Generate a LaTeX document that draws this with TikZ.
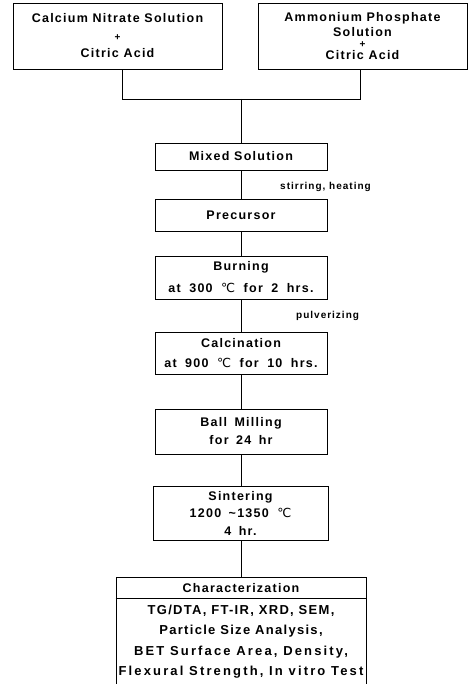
\documentclass[tikz,border=0pt]{standalone}
\usepackage{fontspec}
\setmainfont{Liberation Sans}
\newfontfamily\lab{Liberation Sans}[LetterSpace=10]
\newfontfamily\labw{Liberation Sans}[LetterSpace=16.5]
\newfontfamily\dv{DejaVu Sans}
\newcommand{\degc}{{\dv\mdseries ℃}}
\newcommand{\pls}{{\lab\bfseries\fontsize{10}{10}\selectfont +}}
\newcommand{\wsp}{\hspace{8.5pt}}
\newcommand{\msp}{\hspace{7.5pt}}
\begin{document}
\begin{tikzpicture}[x=1pt,y=-1pt,
  box/.style={draw, line width=0.8pt, rectangle, inner sep=0pt, align=center,
    font=\lab\bfseries\fontsize{12.5}{19}\selectfont},
  conn/.style={line width=0.8pt},
  note/.style={font=\lab\bfseries\fontsize{10}{12}\selectfont, anchor=west, inner sep=0pt}]
\useasboundingbox (0,0) rectangle (472,684);
\node[box, minimum width=209pt, minimum height=66pt] (cal) at (117.5,36)
  {Calcium Nitrate Solution\\[-1.5pt]\pls\\[-1.5pt]Citric Acid};
\node[box, minimum width=209pt, minimum height=66pt] (amm) at (362.5,36)
  {Ammonium Phosphate\\[-4pt]Solution\\[-8pt]\pls\\[-7pt]Citric Acid};
\coordinate (jl) at (122,99);
\coordinate (jr) at (360,99);
\coordinate (jc) at (241,99);
\node[box, minimum width=172pt, minimum height=27pt] (mix) at (241,156.5) {Mixed Solution};
\node[box, minimum width=172pt, minimum height=32pt] (pre) at (241,215) {Precursor};
\node[box, minimum width=172pt, minimum height=43pt] (burn) at (241,277.5)
  {Burning\\[3pt]at\wsp 300\wsp\degc\wsp for\wsp 2\wsp hrs.};
\node[box, minimum width=172pt, minimum height=42pt] (calc) at (241,353)
  {Calcination\\[1pt]at\wsp 900\wsp\degc\wsp for\wsp 10\wsp hrs.};
\node[box, minimum width=172pt, minimum height=45pt] (ball) at (241,431.5)
  {Ball\msp Milling\\[-1pt]for\msp 24\msp hr};
\node[box, minimum width=175pt, minimum height=54pt] (sint) at (240.5,513)
  {Sintering\\[-1.5pt]1200\msp\textasciitilde1350\wsp\degc\\[-1.5pt]4\msp hr.};
\node[draw, line width=0.8pt, rectangle, minimum width=250pt, minimum height=130pt, anchor=north, inner sep=0pt] (char) at (241,577) {};
\draw[conn] (char.west |- 0,598) -- (char.east |- 0,598);
\node[font=\lab\bfseries\fontsize{12.5}{15}\selectfont, inner sep=0pt] (chart) at (241,588) {Characterization};
\node[align=center, inner sep=0pt, font=\lab\bfseries\fontsize{13}{20.5}\selectfont] (charb) at (241,641.5)
  {TG/DTA, FT-IR, XRD, SEM,\\Particle Size Analysis,\\{\labw BET Surface Area, Density,}\\{\labw Flexural Strength, In vitro Test}};
\node[note] (stir) at (280,187) {stirring, heating};
\node[note] (pulv) at (296,316) {pulverizing};
\draw[conn] (cal.south -| jl) -- (jl) -- (jr) -- (amm.south -| jr);
\draw[conn] (jc) -- (mix.north);
\draw[conn] (mix) -- (pre);
\draw[conn] (pre) -- (burn);
\draw[conn] (burn) -- (calc);
\draw[conn] (calc) -- (ball);
\draw[conn] (ball.south) -- (ball.south |- sint.north);
\draw[conn] (sint.south -| jc) -- (char.north -| jc);
\end{tikzpicture}
\end{document}
